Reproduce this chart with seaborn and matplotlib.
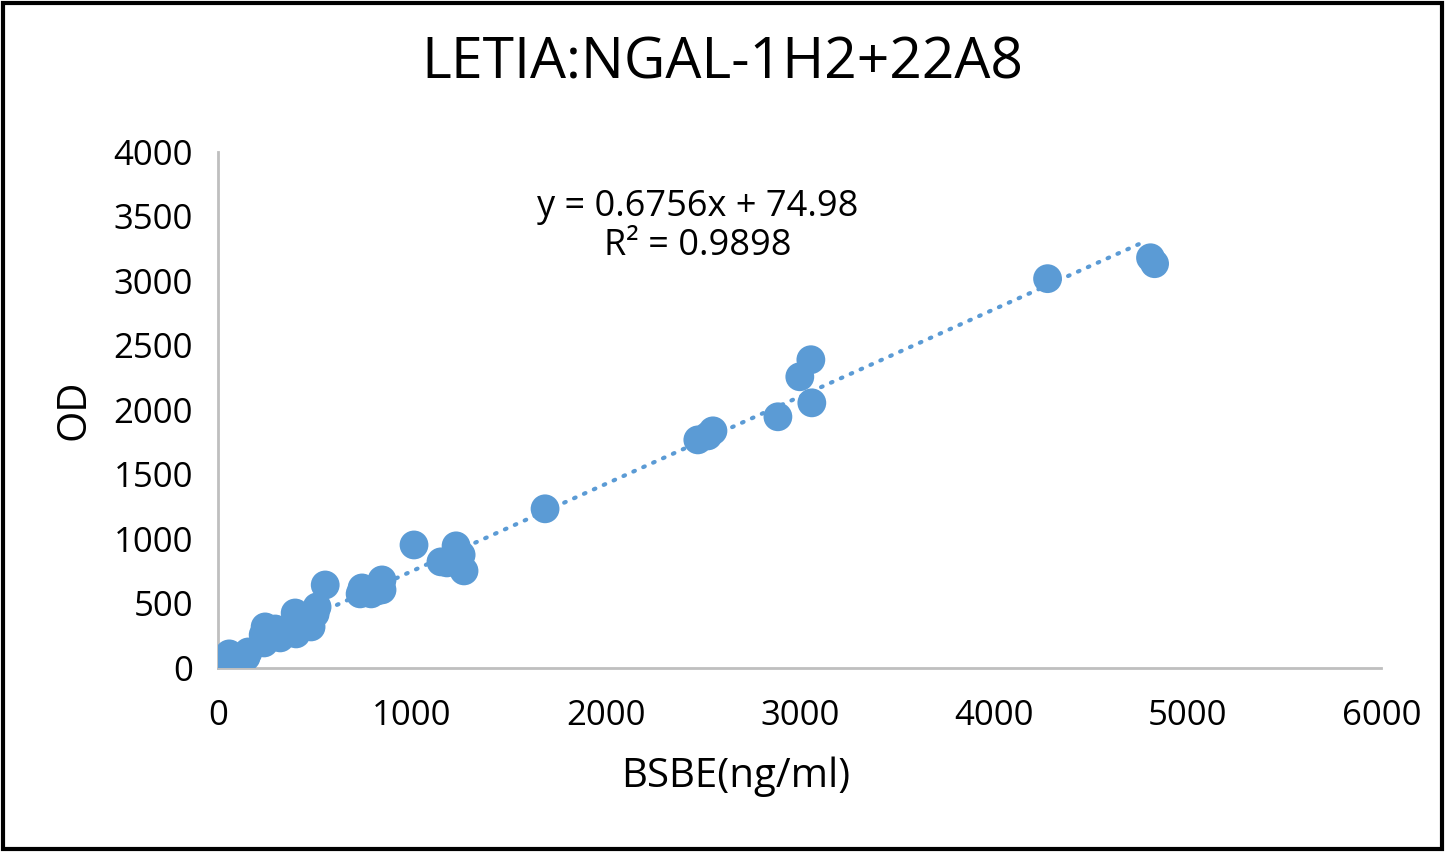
import numpy as np
import pandas as pd
import matplotlib
matplotlib.use("Agg")
import matplotlib.pyplot as plt
import seaborn as sns

# values
bsbe = [4830, 4809, 4278, 3057, 3000, 3062, 2887, 2552, 2526, 2474,
        1686, 1010, 1227, 1253, 1268, 1149, 1180, 552, 845, 845,
        742, 732, 789, 820, 510, 500, 479, 412, 402, 397,
        454, 242, 232, 237, 294, 320, 351, 155, 113, 57,
        52, 103, 144]
od = [3132, 3178, 3016, 2388, 2256, 2054, 1946, 1837, 1798, 1767,
      1233, 953, 946, 876, 752, 822, 814, 643, 682, 605,
      620, 574, 574, 597, 473, 419, 318, 364, 264, 426,
      380, 318, 256, 194, 302, 233, 295, 124, 78, 109,
      16, 31, 85]

slope = 0.6756
intercept = 74.98
r2 = 0.9898

blue = "#5B9BD5"
df = pd.DataFrame({"BSBE": bsbe, "OD": od})

sns.set_style("white")
plt.rcParams["font.family"] = ["Open Sans", "DejaVu Sans"]
plt.rcParams["text.color"] = "black"
plt.rcParams["axes.labelcolor"] = "black"

fig = plt.figure(figsize=(14.45, 8.52), dpi=100)
ax = fig.add_axes([0.151, 0.216, 0.805, 0.606])

# trendline from excel coefficients
xs = np.linspace(min(bsbe), 4790, 100)
trend = pd.DataFrame({"x": xs, "y": slope * xs + intercept})
sns.lineplot(data=trend, x="x", y="y", ax=ax, color=blue, lw=3,
             linestyle=(0, (0.4, 2.2)), dash_capstyle="round", zorder=2)

sns.scatterplot(data=df, x="BSBE", y="OD", ax=ax, color=blue, s=430,
                edgecolor="none", alpha=1, zorder=3)

ax.set_xlim(0, 6000)
ax.set_ylim(0, 4000)
ax.set_xticks(range(0, 6001, 1000))
ax.set_yticks(range(0, 4001, 500))
ax.tick_params(axis="both", labelsize=25, length=0, colors="black")
ax.tick_params(axis="x", pad=22)
ax.tick_params(axis="y", pad=18)
ax.set_xlabel("BSBE(ng/ml)", fontsize=29)
ax.set_ylabel("OD", fontsize=29, labelpad=14)
ax.xaxis.set_label_coords(0.445, -0.172)
for s in ["top", "right"]:
    ax.spines[s].set_visible(False)
for s in ["left", "bottom"]:
    ax.spines[s].set_color("#BFBFBF")
    ax.spines[s].set_linewidth(2)

ax.text(0.412, 0.855, f"y = {slope}x + {intercept}\nR² = {r2}",
        transform=ax.transAxes, ha="center", va="center",
        fontsize=26, linespacing=1.1)

fig.text(0.5, 0.925, "LETIA:NGAL-1H2+22A8", fontsize=41, ha="center", va="center")

# black frame around the whole figure
fig.patches.append(plt.Rectangle((0.002, 0.003), 0.996, 0.994, transform=fig.transFigure,
                                 fill=False, edgecolor="black", lw=3))

fig.savefig("out.png", dpi=100)
